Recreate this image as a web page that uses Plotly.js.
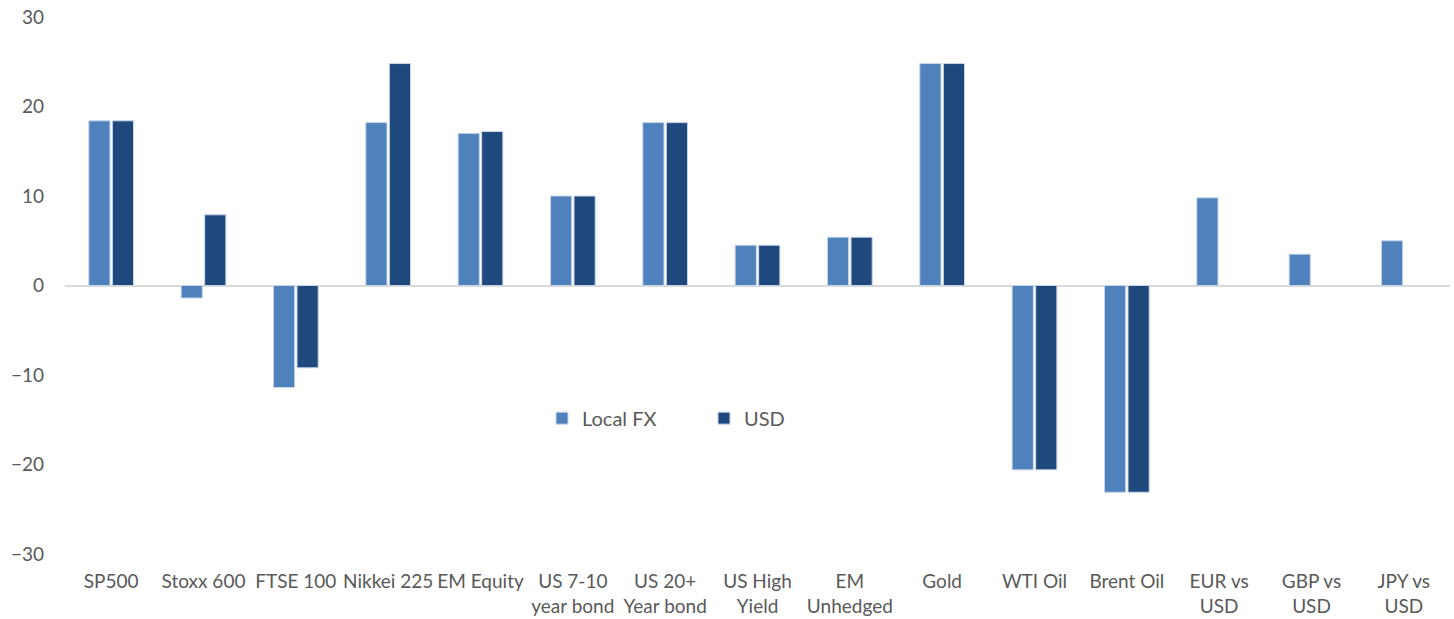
<!DOCTYPE html>
<html>
<head>
<meta charset="utf-8">
<script src="https://cdn.plot.ly/plotly-3.0.1.min.js"></script>
<style>html,body{margin:0;padding:0;background:#fff;}#chart{width:1454px;height:619px;}</style>
</head>
<body>
<div id="chart"></div>
<script>
const categories = ["SP500", "Stoxx 600", "FTSE 100", "Nikkei 225", "EM Equity", "US 7-10<br>year bond", "US 20+<br>Year bond", "US High<br>Yield", "EM<br>Unhedged", "Gold", "WTI Oil", "Brent Oil", "EUR vs<br>USD", "GBP vs<br>USD", "JPY vs<br>USD"];
const localFX = [18.4, -1.4, -11.4, 18.2, 17.0, 10.0, 18.2, 4.5, 5.4, 24.8, -20.6, -23.1, 9.8, 3.5, 5.0];
const usd = [18.4, 7.9, -9.2, 24.8, 17.2, 10.0, 18.2, 4.5, 5.4, 24.8, -20.6, -23.1, null, null, null];
const yTicks = [-30, -20, -10, 0, 10, 20, 30];

const traces = [
  {type: "bar", name: "Local FX", x: categories, y: localFX,
   marker: {color: "#4F81BD", line: {color: "#C9D6EA", width: 1}}},
  {type: "bar", name: "USD", x: categories, y: usd,
   marker: {color: "#1F497D", line: {color: "#C9D6EA", width: 1}}}
];

const layout = {
  width: 1454, height: 619,
  margin: {l: 65, r: 4, t: 17, b: 65},
  paper_bgcolor: "#fff", plot_bgcolor: "#fff",
  font: {family: "Lato, 'Open Sans', sans-serif", size: 19, color: "#595959"},
  barmode: "group", bargap: 0.49, bargroupgap: 0.1,
  xaxis: {type: "category", showgrid: false, showline: false, ticks: "", zeroline: false,
          tickfont: {size: 19, color: "#595959"}, ticklabelstandoff: 14, automargin: false},
  yaxis: {range: [-30, 30], tickvals: yTicks, showgrid: false, showline: false,
          zeroline: true, zerolinecolor: "#D9D9D9", zerolinewidth: 2, ticks: "",
          tickfont: {size: 19, color: "#595959"}, ticklabelstandoff: 20, automargin: false},
  showlegend: true,
  legend: {orientation: "h", x: 0.3444, y: 0.253, xanchor: "left", yanchor: "middle",
           font: {size: 20, color: "#595959"}, entrywidth: 117, bgcolor: "rgba(0,0,0,0)"}
};

Plotly.newPlot("chart", traces, layout, {displayModeBar: false, staticPlot: true});
</script>
</body>
</html>
